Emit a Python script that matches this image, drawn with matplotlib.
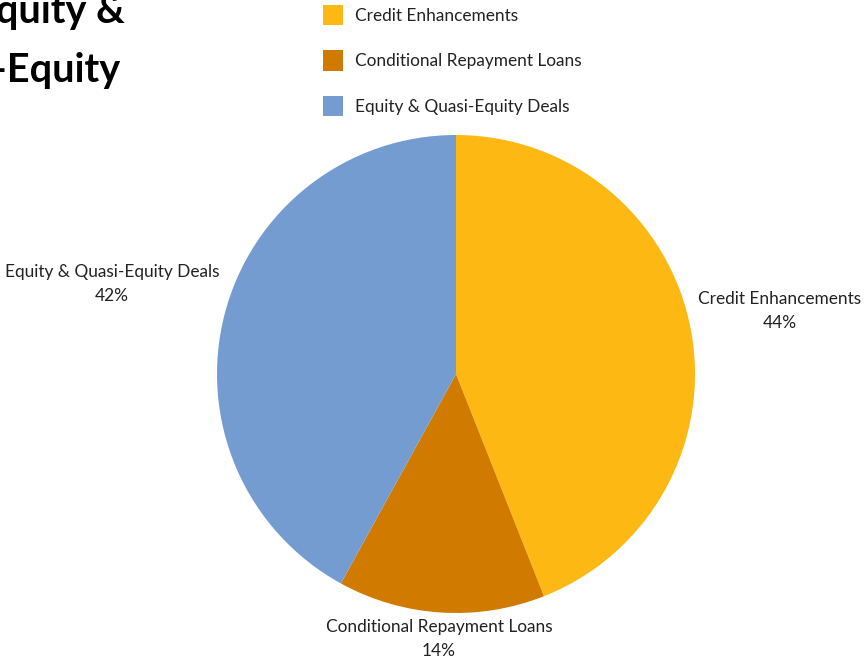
import matplotlib
matplotlib.use('Agg')
import matplotlib.pyplot as plt

plt.rcParams['font.family'] = ['Lato', 'DejaVu Sans']

# data
categories = ['Credit Enhancements', 'Conditional Repayment Loans', 'Equity & Quasi-Equity Deals']
shares = [44, 14, 42]
colors = ['#FDB813', '#D07A00', '#749CD0']
title_lines = ['Equity &', 'Quasi-Equity']

W, H = 865, 661
fig = plt.figure(figsize=(W / 100, H / 100), dpi=100)
ax = fig.add_axes([0, 0, 1, 1])

# pie in pixel coords (y flipped)
cx, cy, r = 456, H - 374, 239
wedges, _ = ax.pie(shares, colors=colors, startangle=90, counterclock=False,
                   center=(cx, cy), radius=r, frame=True,
                   wedgeprops=dict(linewidth=0))
ax.set_xlim(0, W)
ax.set_ylim(0, H)
ax.set_aspect('equal')
ax.axis('off')

# slice labels, name line then percent line
label_pos = [(780, 299), (439, 627), (112, 272)]
for name, val, (x, y) in zip(categories, shares, label_pos):
    ax.text(x, H - y, name, ha='center', va='center', fontsize=12.4, color='#222222')
    ax.text(x, H - y - 24, f'{val}%', ha='center', va='center', fontsize=12.4, color='#222222')

# title, cut off at the left edge like the original
ax.text(125, H - 23, title_lines[0], ha='right', va='baseline',
        fontsize=28.5, fontweight='bold', color='black')
ax.text(121, H - 82, title_lines[1], ha='right', va='baseline',
        fontsize=28.5, fontweight='bold', color='black')

leg = fig.legend(wedges, categories, loc='upper left',
                 bbox_to_anchor=(307.5 / W, 1 + 10.5 / H), frameon=False,
                 fontsize=12.4, labelspacing=1.45, handlelength=1.16,
                 handleheight=1.45, handletextpad=0.7)
for t in leg.get_texts():
    t.set_color('#222222')

fig.savefig('out.png', dpi=100)
